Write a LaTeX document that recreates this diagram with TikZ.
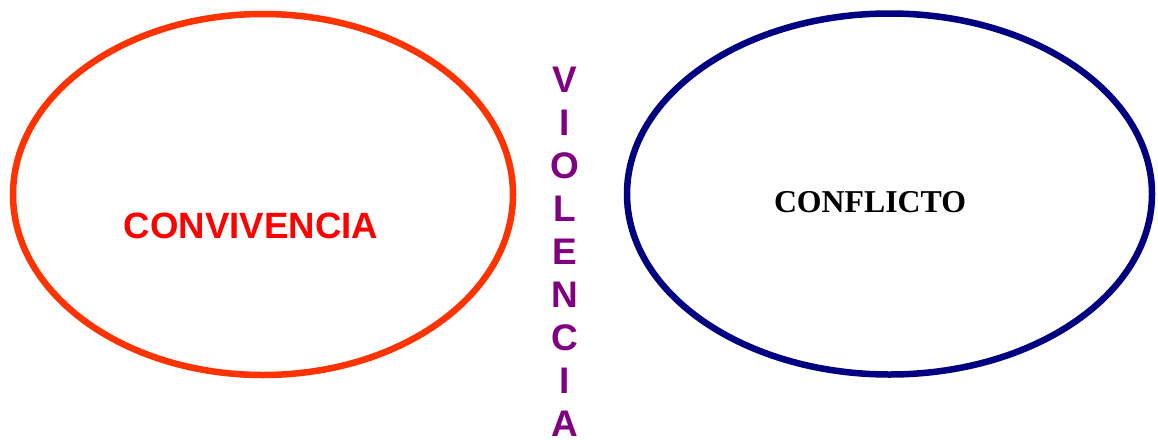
\documentclass[tikz,border=0pt]{standalone}
\usepackage{fontspec}
\setmainfont{Liberation Serif}
\setsansfont{Liberation Sans}
\usepackage{xcolor}
\usepackage{tikz}
\usetikzlibrary{shapes.geometric, positioning}

\definecolor{convred}{HTML}{FF3300}
\definecolor{confblue}{HTML}{000080}
\definecolor{violpurple}{HTML}{800080}

\begin{document}
\begin{tikzpicture}[
    x = 1pt, y = -1pt,
    oval/.style    = {ellipse, line width=6.5pt,
                      inner sep=0pt, outer sep=0pt},
    convtext/.style = {text=red, inner sep=0pt,
                       font=\sffamily\bfseries\fontsize{36.6}{40}\selectfont},
    conftext/.style = {text=black, inner sep=0pt,
                       font=\rmfamily\bfseries\fontsize{31.8}{36}\selectfont},
    violtext/.style = {text=violpurple, inner sep=0pt,
                       align=center,
                       font=\sffamily\bfseries\fontsize{37}{43}\selectfont}
]
\useasboundingbox (0,0) rectangle (1158,439);

%% Left oval
\node[oval, draw=convred, minimum width=500pt,
      minimum height=361pt] (conv) at (263,194.5) {};
\node[convtext] (convlbl) at (251,226) {CONVIVENCIA};

%% Right oval
\node[oval, draw=confblue, minimum width=525pt,
      minimum height=361pt] (conf) at (889.5,194) {};
\node[conftext] (conflbl) at (870,202) {CONFLICTO};

%% Vertical word in between
\node[violtext, anchor=north] (viol) at (565,67)
    {V\\I\\O\\L\\E\\N\\C\\I\\A};
\end{tikzpicture}
\end{document}
